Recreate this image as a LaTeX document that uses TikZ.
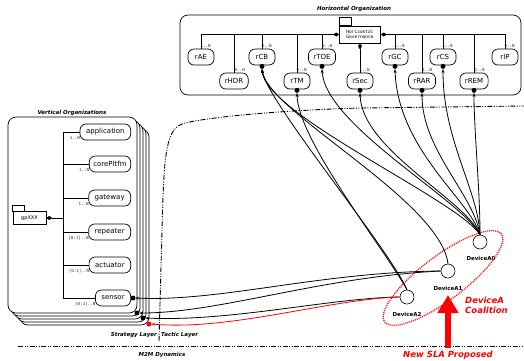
\documentclass[tikz,border=0pt]{standalone}
\usepackage{fontspec}
\setmainfont{DejaVu Sans}
\setmonofont{DejaVu Sans Mono}
\usetikzlibrary{arrows.meta,shapes.geometric,calc}
\begin{document}
\begin{tikzpicture}[x=1pt,y=-1pt,
 box/.style={draw, rounded corners=6pt, line width=0.7pt, minimum height=16pt, minimum width=26pt, inner xsep=5pt, inner ysep=0pt, font=\fontsize{7}{8}\selectfont, fill=white},
 mult/.style={font=\ttfamily\fontsize{4.2}{5}\selectfont, inner sep=0.5pt, text=black!80},
 dotn/.style={circle, fill, inner sep=0pt, minimum size=5pt},
 ttl/.style={font=\bfseries\itshape\fontsize{5.5}{6}\selectfont, inner sep=0pt},
 dev/.style={circle, draw, line width=0.6pt, minimum size=14pt, inner sep=0pt},
 devlabel/.style={font=\bfseries\fontsize{5.5}{6}\selectfont, inner sep=0pt},
 link/.style={line width=0.8pt, -{Stealth[length=4pt,width=3pt]}},
 ddot/.style={line width=0.9pt, dash pattern=on 5pt off 1.5pt on 1pt off 1.5pt on 1pt off 1.5pt},
 bus/.style={line width=0.6pt},
 diam/.style={-{Diamond[length=6pt,width=4pt]}},
]
\useasboundingbox (0,0) rectangle (524,360);

% ---------------- Horizontal organization ----------------
\draw[line width=0.7pt, rounded corners=8pt] (180,15) rectangle (521,95);
\node[ttl] (htitle) at (354,9) {Horizontal Organization};

\node[draw, line width=0.6pt, font=\ttfamily\fontsize{4.5}{5}\selectfont, align=left, minimum width=41pt, minimum height=17pt, inner sep=1pt, fill=white] (gov) at (360,34.5) {Horizontal\\Governance};
\draw[line width=0.6pt] (gov.north west) rectangle ++(12,-8);

\node[box] (rAE)  at (201,57) {rAE};
\node[box] (rHDR) at (234,81) {rHDR};
\node[box] (rCB)  at (262,57) {rCB};
\node[box] (rTM)  at (297,81) {rTM};
\node[box] (rTOE) at (322,57) {rTOE};
\node[box] (rSec) at (360,81) {rSec};
\node[box] (rGC)  at (395,57) {rGC};
\node[box] (rRAR) at (422,81) {rRAR};
\node[box] (rCS)  at (443,57) {rCS};
\node[box] (rREM) at (474,81) {rREM};
\node[box] (rIP)  at (505,57) {rIP};

\draw[bus, diam] (rAE.north) |- (gov.west);
\foreach \n in {rHDR,rCB,rTM,rTOE} \draw[bus] (\n.north) -- (\n.north |- gov.west);
\draw[bus, diam] (rIP.north) |- (gov.east);
\foreach \n in {rGC,rRAR,rCS,rREM} \draw[bus] (\n.north) -- (\n.north |- gov.east);
\draw[bus, diam] (rSec.north) -- (gov.south);

\foreach \n/\m in {rAE/1..N,rHDR/0..N,rCB/0..N,rTM/0..N,rTOE/0..N,rSec/1..N,rGC/1..N,rRAR/1..N,rCS/1..N,rREM/1..N,rIP/0..N}
  \node[mult, anchor=south east] at ($(\n.north east)+(-3,-0.5)$) {\m};

\foreach \n in {rCB,rTM,rTOE,rSec,rGC,rRAR,rCS,rREM}
  \node[dotn] (d\n) at ($(\n.south)+(0,1)$) {};

% ---------------- Vertical organizations ----------------
\foreach \i in {4,3,2,1}
  \draw[line width=0.7pt, fill=white, rounded corners=8pt] (8+3*\i,117+3*\i) rectangle (137+3*\i,313+3*\i);
\draw[line width=0.7pt, fill=white, rounded corners=8pt] (8,117) rectangle (137,313);
\node[ttl] (vtitle) at (72,113) {Vertical Organizations};

\node[box, anchor=east, inner xsep=6pt] (app) at (131,132) {application};
\node[box, anchor=east, inner xsep=4pt] (core) at (131,164) {corePltfm};
\node[box, anchor=east, inner xsep=6pt] (gate) at (131,198) {gateway};
\node[box, anchor=east, inner xsep=6pt] (rep) at (131,232) {repeater};
\node[box, anchor=east, inner xsep=6pt] (act) at (131,265) {actuator};
\node[box, anchor=east, inner xsep=6pt] (sens) at (131,298) {sensor};

\draw[bus] (63,132) -- (63,298);
\foreach \n in {app,core,gate,rep,act,sens} \draw[bus] (\n.west) -- (63,0 |- \n.west);
\foreach \n/\m in {app/1..N,core/1..N,gate/1..N,rep/[0:1]..N,act/[0:1]..N,sens/[0:1]..N}
  \node[mult, anchor=east] at ($(\n.south west)+(1,-2.5)$) {\m};

\node[draw, line width=0.6pt, minimum width=33pt, minimum height=13pt, inner sep=0pt, font=\fontsize{5}{6}\selectfont, fill=white] (gp) at (29.5,218) {gpXXX};
\draw[line width=0.6pt] (gp.north west) rectangle ++(12,-6);
\draw[bus, diam] (63,218) -- (gp.east);

\node[dotn] (s1) at (133,298) {};
\node[dotn] (s2) at (137,313) {};
\node[dotn] (s3) at (143,318) {};
\node[dotn, red] (s4) at (149,324) {};

% ---------------- layer separators ----------------
\draw[ddot] (159,341) -- (162,230) .. controls (164,150) and (166,128) .. (185,123) .. controls (215,116) and (290,110) .. (360,108) -- (524,106);
\draw[ddot] (18,346) -- (524,346);
\node[ttl, anchor=east] at (157,335) {Strategy Layer};
\node[ttl, anchor=west] at (161,335) {Tactic Layer};
\node[ttl] at (162,355) {M2M Dynamics};

% ---------------- devices ----------------
\node[dev] (A0) at (480,242) {};
\node[dev] (A1) at (448,271) {};
\node[dev] (A2) at (407,297) {};
\node[devlabel] at (481,258) {DeviceA0};
\node[devlabel] at (448,288) {DeviceA1};
\node[devlabel] at (407,314) {DeviceA2};

\node[ellipse, draw=red, line width=1.3pt, dash pattern=on 1pt off 1pt, minimum width=146pt, minimum height=44pt, rotate=37] (coal) at (443,278) {};
\node[align=left, anchor=west, text=red, font=\bfseries\itshape\fontsize{8.5}{10}\selectfont, inner sep=0pt] (coaltext) at (465,305) {DeviceA\\Coalition};

% device -> horizontal roles
\draw[link] (A0.north) .. controls (480,190) and (474,130) .. (drREM.south);
\draw[link] (A0.north) .. controls (478,190) and (443,140) .. (drCS.south);
\draw[link] (A0.north) .. controls (474,195) and (422,150) .. (drRAR.south);
\draw[link] (A0.north) .. controls (470,200) and (398,150) .. (drGC.south);
\draw[link] (A0.north) .. controls (466,200) and (362,150) .. (drSec.south);
\draw[link] (A0.north) .. controls (462,200) and (325,125) .. (drTOE.south);
\draw[link] (A0.north) .. controls (458,200) and (266,115) .. (drCB.south);
\draw[link] (A1.north) .. controls (440,200) and (268,112) .. (drCB.south);
\draw[link] (A2.north) .. controls (390,250) and (266,100) .. (drCB.south);
\draw[link] (A2.north) .. controls (385,250) and (298,140) .. (drTM.south);

% device -> sensors
\draw[link, -{Stealth[length=3pt,width=3pt]}] (A1.west) .. controls (320,272) and (220,302) .. (s1.east);
\draw[link, -{Stealth[length=3pt,width=3pt]}] (A1.west) .. controls (320,277) and (220,313) .. (s2.east);
\draw[link, -{Stealth[length=3pt,width=3pt]}] (A2.west) .. controls (330,298) and (230,322) .. (s3.east);
\draw[link, red, -{Stealth[length=3pt,width=3pt]}] (A2.west) .. controls (330,299) and (230,331) .. (s4.east);

% new SLA
\draw[red, line width=6pt, -{Triangle[length=18pt,width=20pt]}] (448,348) -- (448,295);
\node[text=red, font=\bfseries\itshape\fontsize{8.5}{10}\selectfont, inner sep=0pt] (sla) at (448,355) {New SLA Proposed};
\end{tikzpicture}
\end{document}
